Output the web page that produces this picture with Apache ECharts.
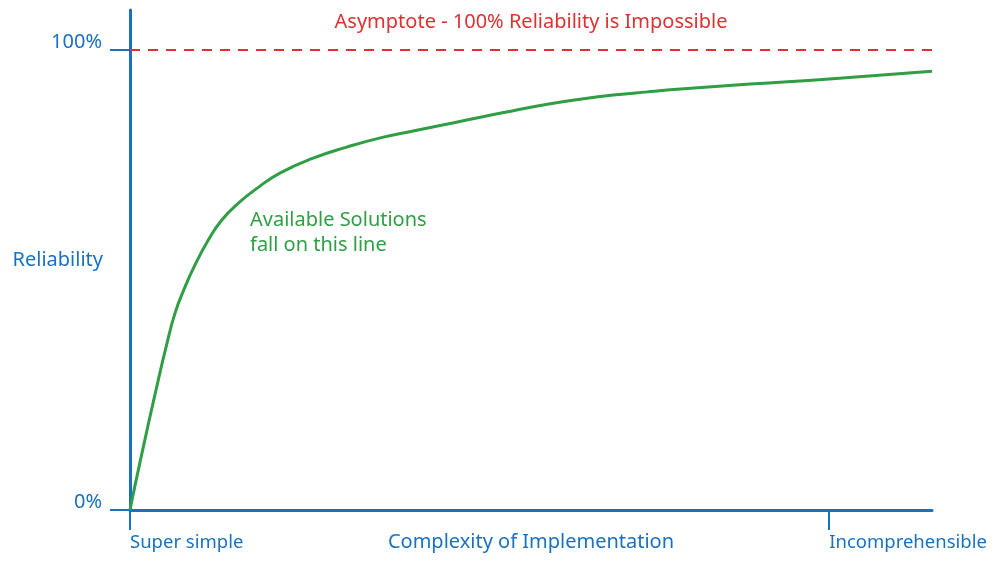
<!DOCTYPE html>
<html>
<head>
<meta charset="utf-8">
<script src="https://cdn.jsdelivr.net/npm/echarts@6/dist/echarts.min.js"></script>
<style>
  html, body { margin: 0; padding: 0; background: #fff; }
  #chart { width: 995px; height: 565px; }
</style>
</head>
<body>
<div id="chart"></div>
<script>
// complexity (0 = super simple, 100 = incomprehensible) vs reliability (%)
const complexity = [0, 1.4, 4.05, 5.25, 6.44, 7.87, 9.3, 11.2, 13.1, 15.5, 18.4, 21.5, 26.2, 31.0,
    35.8, 40.5, 45.4, 50.1, 54.8, 59.7, 64.4, 69.1, 74.0, 78.7, 88.7, 100, 114.7];
const reliability = [0, 10.2, 28.3, 36.0, 42.8, 48.5, 53.3, 58.7, 63.0, 66.7, 70.2, 73.3, 76.5, 78.9,
    80.9, 82.4, 83.9, 85.4, 86.8, 88.2, 89.3, 90.2, 90.9, 91.5, 92.6, 93.7, 95.4];

const xTicks = [0, 100];
const xTickLabels = ['Super simple', 'Incomprehensible'];
const yTicks = [0, 100];
const asymptote = 100;

const blue = '#1971c2';
const red = '#e03131';
const green = '#2f9e44';
const font = 'Noto Sans';

const chart = echarts.init(document.getElementById('chart'));

chart.setOption({
    animation: false,
    textStyle: { fontFamily: font },
    grid: { left: 130, right: 63, top: 10, bottom: 55, containLabel: false, outerBoundsMode: 'none' },
    xAxis: {
        type: 'value',
        min: 0,
        max: 114.7,
        name: 'Complexity of Implementation',
        nameLocation: 'middle',
        nameGap: 22,
        nameMoveOverlap: false,
        nameTextStyle: { color: blue, fontSize: 20, fontFamily: font },
        axisLine: { show: true, onZero: false, lineStyle: { color: blue, width: 3 } },
        axisTick: { show: true, customValues: xTicks, length: 20, lineStyle: { color: blue, width: 2 } },
        axisLabel: {
            customValues: xTicks,
            color: blue,
            fontSize: 18.5,
            align: 'left',
            margin: 23,
            formatter: v => xTickLabels[xTicks.indexOf(v)] || ''
        },
        splitLine: { show: false }
    },
    yAxis: {
        type: 'value',
        min: 0,
        max: 108.7,
        name: 'Reliability',
        nameLocation: 'middle',
        nameRotate: 0,
        nameGap: 27,
        nameMoveOverlap: false,
        nameTextStyle: { color: blue, fontSize: 20, fontFamily: font, align: 'right' },
        axisLine: { show: true, onZero: false, lineStyle: { color: blue, width: 3 } },
        axisTick: { show: true, customValues: yTicks, length: 20, lineStyle: { color: blue, width: 2 } },
        axisLabel: {
            customValues: yTicks,
            color: blue,
            fontSize: 20,
            margin: 28,
            verticalAlign: 'bottom',
            lineHeight: 16,
            formatter: v => v + '%'
        },
        splitLine: { show: false }
    },
    graphic: [{
        type: 'text',
        left: 250,
        top: 208,
        style: {
            text: 'Available Solutions\nfall on this line',
            fill: green,
            font: '20px "Noto Sans"',
            lineHeight: 25
        }
    }],
    series: [{
        type: 'line',
        data: complexity.map((c, i) => [c, reliability[i]]),
        smooth: 0.5,
        showSymbol: false,
        lineStyle: { color: green, width: 3 },
        markLine: {
            silent: true,
            symbol: 'none',
            lineStyle: { color: red, width: 2, type: [10, 8] },
            label: {
                show: true,
                position: 'insideMiddleTop',
                distance: 18,
                formatter: 'Asymptote - 100% Reliability is Impossible',
                color: red,
                fontSize: 20,
                fontFamily: font
            },
            data: [{ yAxis: asymptote }]
        }
    }]
});
</script>
</body>
</html>
